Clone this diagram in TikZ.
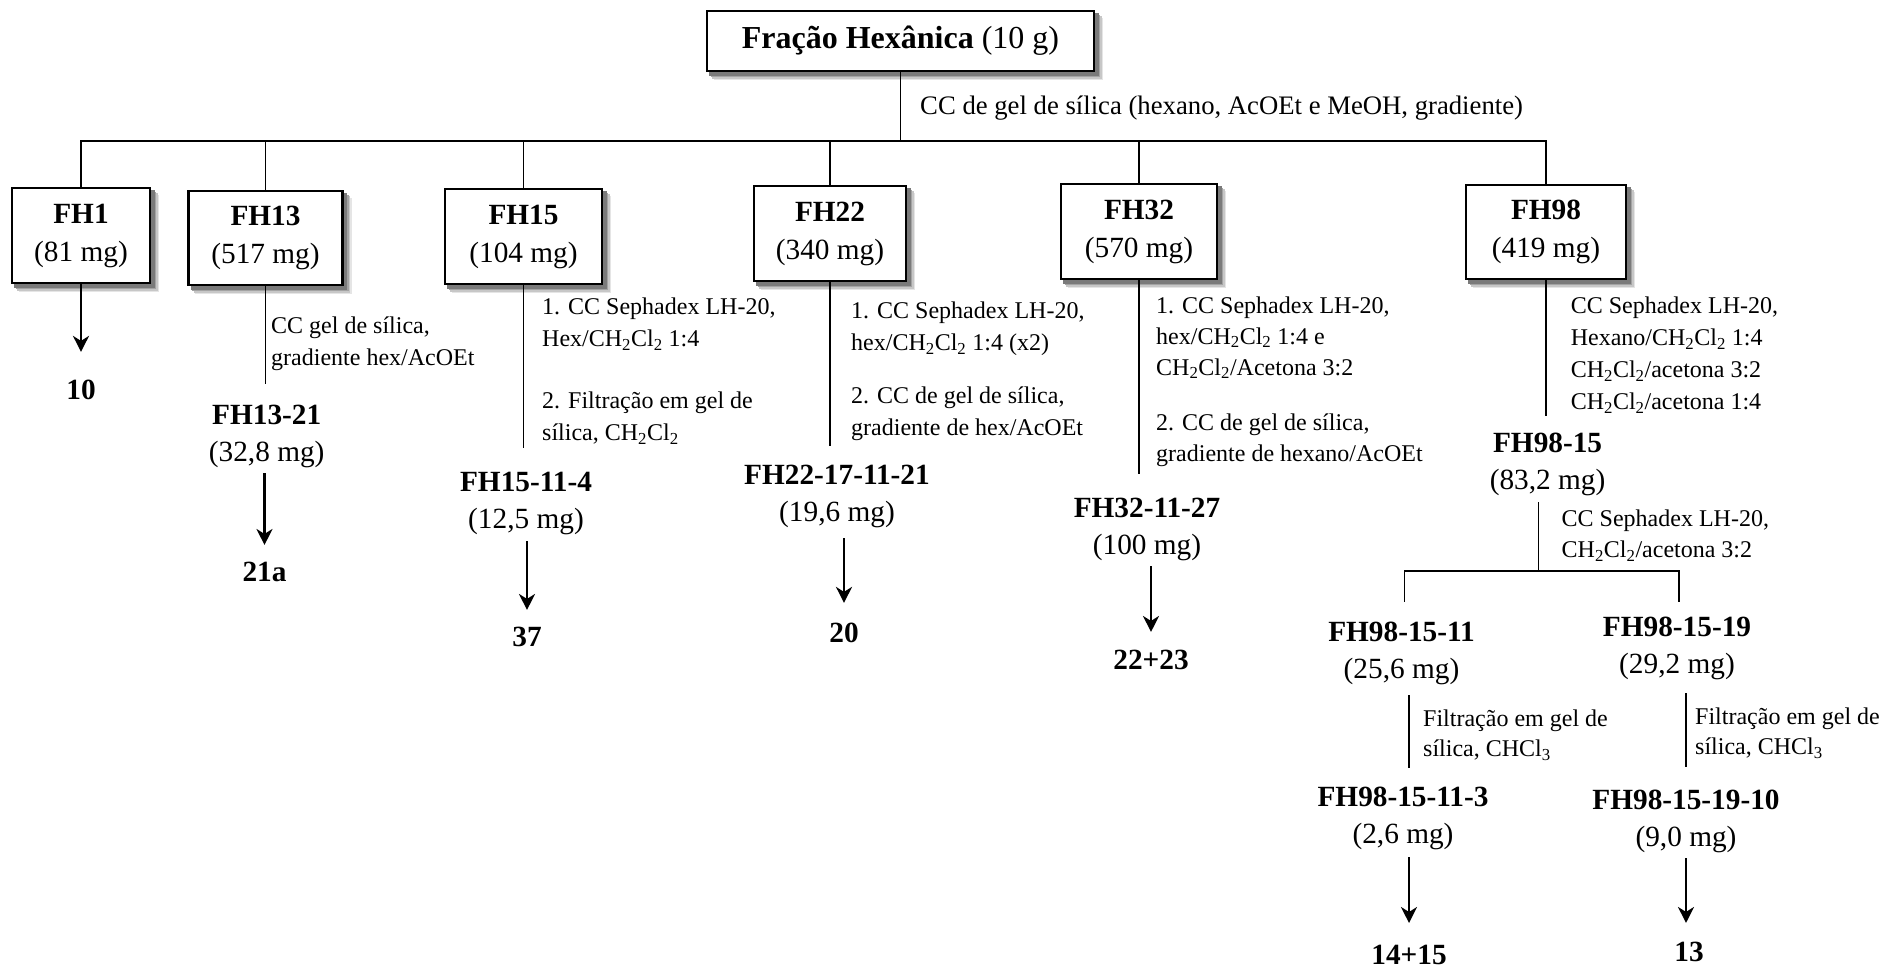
\documentclass[tikz,border=0pt]{standalone}
\usepackage{fontspec}
\setmainfont{Liberation Serif}
\usetikzlibrary{arrows.meta}
\pgfdeclarelayer{back}
\pgfsetlayers{back,main}

% font sizes (picture units are pixels, 1px = 1pt)
\newcommand\fTop{\fontsize{32}{38}\selectfont}
\newcommand\fBox{\fontsize{29.3}{38}\selectfont}
\newcommand\fName{\fontsize{29.3}{37}\selectfont}
\newcommand\fMain{\fontsize{26.7}{32}\selectfont}
\newcommand\fNote{\fontsize{24}{32}\selectfont}
\newcommand\lsub[1]{\textsubscript{#1}}
\newcommand\dcm{CH\lsub{2}Cl\lsub{2}}

\tikzset{
  frac/.style={draw, line width=2.6pt, fill=white, align=center, inner sep=0pt,
    font=\fBox},
  fname/.style={align=center, inner sep=0pt, font=\fName},
  res/.style={inner sep=0pt, font=\fName\bfseries},
  note/.style={align=left, inner sep=0pt, anchor=west, font=\fNote},
  link/.style={line width=1.7pt},
  bus/.style={line width=2.4pt, line cap=rect},
  arr/.style={line width=2.3pt, -{Stealth[length=16pt,width=16pt,inset=5pt]},
    shorten <=6pt, shorten >=18pt}
}

\begin{document}
\begin{tikzpicture}[x=1pt,y=-1pt]
\useasboundingbox (0,0) rectangle (1888,968);

% starting fraction
\node[frac, font=\fTop, minimum width=387pt, minimum height=60pt] (top) at (900.5,41)
  {\textbf{Fração Hexânica} (10 g)};

% first column separation
\node[frac, minimum width=138pt, minimum height=95pt] (fh1)  at (81,235.5)   {\textbf{FH1}\\(81 mg)};
\node[frac, minimum width=154pt, minimum height=94pt] (fh13) at (265.5,238)  {\textbf{FH13}\\(517 mg)};
\node[frac, minimum width=157pt, minimum height=95pt] (fh15) at (523.5,236.5){\textbf{FH15}\\(104 mg)};
\node[frac, minimum width=152pt, minimum height=95pt] (fh22) at (830,233.5)  {\textbf{FH22}\\(340 mg)};
\node[frac, minimum width=156pt, minimum height=95pt] (fh32) at (1139,231.5) {\textbf{FH32}\\(570 mg)};
\node[frac, minimum width=160pt, minimum height=94pt] (fh98) at (1546,232)   {\textbf{FH98}\\(419 mg)};

% soft grey shadows behind the boxes: shifted copies, darker ones closer
\begin{pgfonlayer}{back}
  \foreach \b in {top,fh1,fh13,fh15,fh22,fh32,fh98} {
    \foreach \s/\c in {8/10,6.5/22,5/36,3.5/52} {
      \fill[black!\c] ([shift={(\s pt,-\s pt)}]\b.south west)
        rectangle ([shift={(\s pt,-\s pt)}]\b.north east);
    }
  }
\end{pgfonlayer}

\coordinate (busL) at (81,141);
\coordinate (busR) at (1546,141);
\draw[link] (top.south) -- (top.south |- busL);
\draw[bus] (busL) -- (busR);
\foreach \b in {fh1,fh13,fh15,fh22,fh32,fh98}
  \draw[link] (\b |- busL) -- (\b.north);
\node[note, font=\fMain] (cc0) at (920,108) {CC de gel de sílica (hexano, AcOEt e MeOH, gradiente)};

% subfractions
\node[fname] (n13)     at (266.7,436.7) {\textbf{FH13-21}\\(32,8 mg)};
\node[fname] (n15)     at (526,503.7)   {\textbf{FH15-11-4}\\(12,5 mg)};
\node[fname] (n22)     at (837,496.7)   {\textbf{FH22-17-11-21}\\(19,6 mg)};
\node[fname] (n32)     at (1147,529.7)  {\textbf{FH32-11-27}\\(100 mg)};
\node[fname] (n98)     at (1547.6,464.7){\textbf{FH98-15}\\(83,2 mg)};
\node[fname] (n9811)   at (1401.5,653.7){\textbf{FH98-15-11}\\(25,6 mg)};
\node[fname] (n9819)   at (1677,648.7)  {\textbf{FH98-15-19}\\(29,2 mg)};
\node[fname] (n98113)  at (1403,818.7)  {\textbf{FH98-15-11-3}\\(2,6 mg)};
\node[fname] (n981910) at (1686,821.7)  {\textbf{FH98-15-19-10}\\(9,0 mg)};

% isolated compounds
\node[res] (r1)  at (81,390)   {10};
\node[res] (r13) at (264.5,572){21a};
\node[res] (r15) at (527,637)  {37};
\node[res] (r22) at (844,633)  {20};
\node[res] (r32) at (1151,660) {22+23};
\node[res] (r14) at (1409,955) {14+15};
\node[res] (r13b) at (1689,952){13};

% procedures
\node[note] (l13) at (271,344) {CC gel de sílica,\\gradiente hex/AcOEt};
\node[note] (l15) at (542,371.5) {1. CC Sephadex LH-20,\\Hex/\dcm{} 1:4\\[30pt]2. Filtração em gel de\\sílica, \dcm};
\node[note] (l22) at (851,371.5) {1. CC Sephadex LH-20,\\hex/\dcm{} 1:4 (x2)\\[21pt]2. CC de gel de sílica,\\gradiente de hex/AcOEt};
\node[note, font=\fontsize{24}{31}\selectfont] (l32) at (1156,381.5) {1. CC Sephadex LH-20,\\hex/\dcm{} 1:4 e\\\dcm/Acetona 3:2\\[24pt]2. CC de gel de sílica,\\gradiente de hexano/AcOEt};
\node[note] (l98) at (1570.6,355.5) {CC Sephadex LH-20,\\Hexano/\dcm{} 1:4\\\dcm/acetona 3:2\\\dcm/acetona 1:4};
\node[note, font=\fontsize{24}{31}\selectfont] (l98b) at (1561.5,535.5) {CC Sephadex LH-20,\\\dcm/acetona 3:2};
\node[note, font=\fontsize{24}{30}\selectfont] (l11) at (1423,735) {Filtração em gel de\\sílica, CHCl\lsub{3}};
\node[note, font=\fontsize{24}{30}\selectfont] (l19) at (1695,733) {Filtração em gel de\\sílica, CHCl\lsub{3}};

% connectors below the fractions
\draw[arr, shorten <=0pt, shorten >=28pt] (fh1.south) -- (fh1.south |- r1.north);

\draw[link, shorten >=21pt] (fh13.south) -- (fh13.south |- n13.north);
\draw[arr, shorten <=5pt, shorten >=17pt] (r13 |- n13.south) -- (r13.north);

\draw[link, shorten >=24pt] (fh15.south) -- (fh15.south |- n15.north);
\draw[arr, shorten <=6pt, shorten >=17pt] (r15 |- n15.south) -- (r15.north);

\draw[link, shorten >=19pt] (fh22.south) -- (fh22.south |- n22.north);
\draw[arr, shorten <=10pt, shorten >=20pt] (r22 |- n22.south) -- (r22.north);

\draw[link, shorten >=24pt] (fh32.south) -- (fh32.south |- n32.north);
\draw[arr, shorten <=5pt, shorten >=18pt] (r32 |- n32.south) -- (r32.north);

\draw[link, shorten >=17pt] (fh98.south) -- (fh98.south |- n98.north);

\coordinate (sbL) at (1404.5,570.5);
\coordinate (sbM) at (1538.5,570.5);
\coordinate (sbR) at (1679,570.5);
\draw[link, shorten <=6pt] (sbM |- n98.south) -- (sbM);
\draw[bus, line width=2pt] (sbL) -- (sbR);
\draw[link, shorten >=20pt] (sbL) -- (sbL |- n9811.north);
\draw[link, shorten >=15pt] (sbR) -- (sbR |- n9819.north);

\draw[link, shorten <=10pt, shorten >=19pt] (r14 |- n9811.south) -- (r14 |- n98113.north);
\draw[link, shorten <=13pt, shorten >=23pt] (n981910 |- n9819.south) -- (n981910.north);
\draw[arr, shorten <=7pt, shorten >=22pt] (r14 |- n98113.south) -- (r14.north);
\draw[arr, shorten <=5pt, shorten >=19pt] (n981910.south) -- (n981910.south |- r13b.north);
\end{tikzpicture}
\end{document}
